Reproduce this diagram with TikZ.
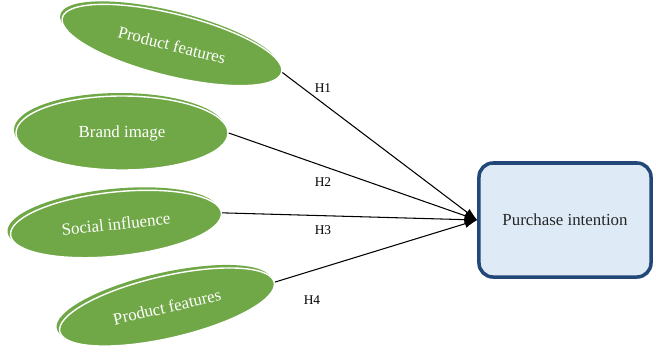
\documentclass[tikz,border=0pt]{standalone}
\usepackage{fontspec}
\setmainfont{Liberation Serif}
\usepackage{tikz}
\usetikzlibrary{shapes.geometric, arrows.meta}
\definecolor{leafgreen}{RGB}{112,168,71}
\definecolor{boxblue}{RGB}{34,72,120}
\definecolor{boxfill}{RGB}{222,235,247}

\begin{document}
\begin{tikzpicture}[x=0.025cm, y=-0.025cm, leaf/.style={shape=ellipse, fill=leafgreen, draw=white, line width=1pt, inner sep=0pt, text=white, font=\fontsize{12}{14}\selectfont}, back/.style={shape=ellipse, fill=leafgreen, inner sep=0pt}, target/.style={rectangle, rounded corners=10pt, draw=boxblue, line width=2.5pt, fill=boxfill, minimum width=4.3cm, minimum height=2.85cm, text=black!85, font=\fontsize{12}{14}\selectfont}, n/.style={-{Latex[length=9pt, width=6pt]}, line width=0.75pt}, hyp/.style={font=\fontsize{9.5}{11}\selectfont}]
            \useasboundingbox (0,0) rectangle (656,357);
            % leaves
            \node[back, minimum width=5.65cm, minimum height=1.55cm, rotate=-14] (pf1b) at (170,42) {};
            \node[leaf, minimum width=5.65cm, minimum height=1.55cm, rotate=-14] (pf1) at (172,45) {Product features};
            \node[back, minimum width=5.3cm, minimum height=1.85cm] (bib) at (120,130) {};
            \node[leaf, minimum width=5.3cm, minimum height=1.85cm] (bi) at (122,133) {Brand image};
            \node[back, minimum width=5.3cm, minimum height=1.6cm, rotate=6] (sib) at (113,221) {};
            \node[leaf, minimum width=5.3cm, minimum height=1.6cm, rotate=6] (si) at (116,224) {Social influence};
            \node[back, minimum width=5.5cm, minimum height=1.55cm, rotate=13] (pf2b) at (164,304) {};
            \node[leaf, minimum width=5.5cm, minimum height=1.55cm, rotate=13] (pf2) at (167,307) {Product features};
            % target
            \node[target] (pi) at (565,220) {Purchase intention};
            % edges
            \draw [n] (pf1.east) -- (pi.west);
            \draw [n] (bi.east) -- (pi.west);
            \draw [n] (si.east) -- (pi.west);
            \draw [n] (pf2.east) -- (pi.west);
            % labels
            \node[hyp] (h1) at (323,88) {H1};
            \node[hyp] (h2) at (323,182) {H2};
            \node[hyp] (h3) at (323,230) {H3};
            \node[hyp] (h4) at (312,300) {H4};
        \end{tikzpicture}
\end{document}
